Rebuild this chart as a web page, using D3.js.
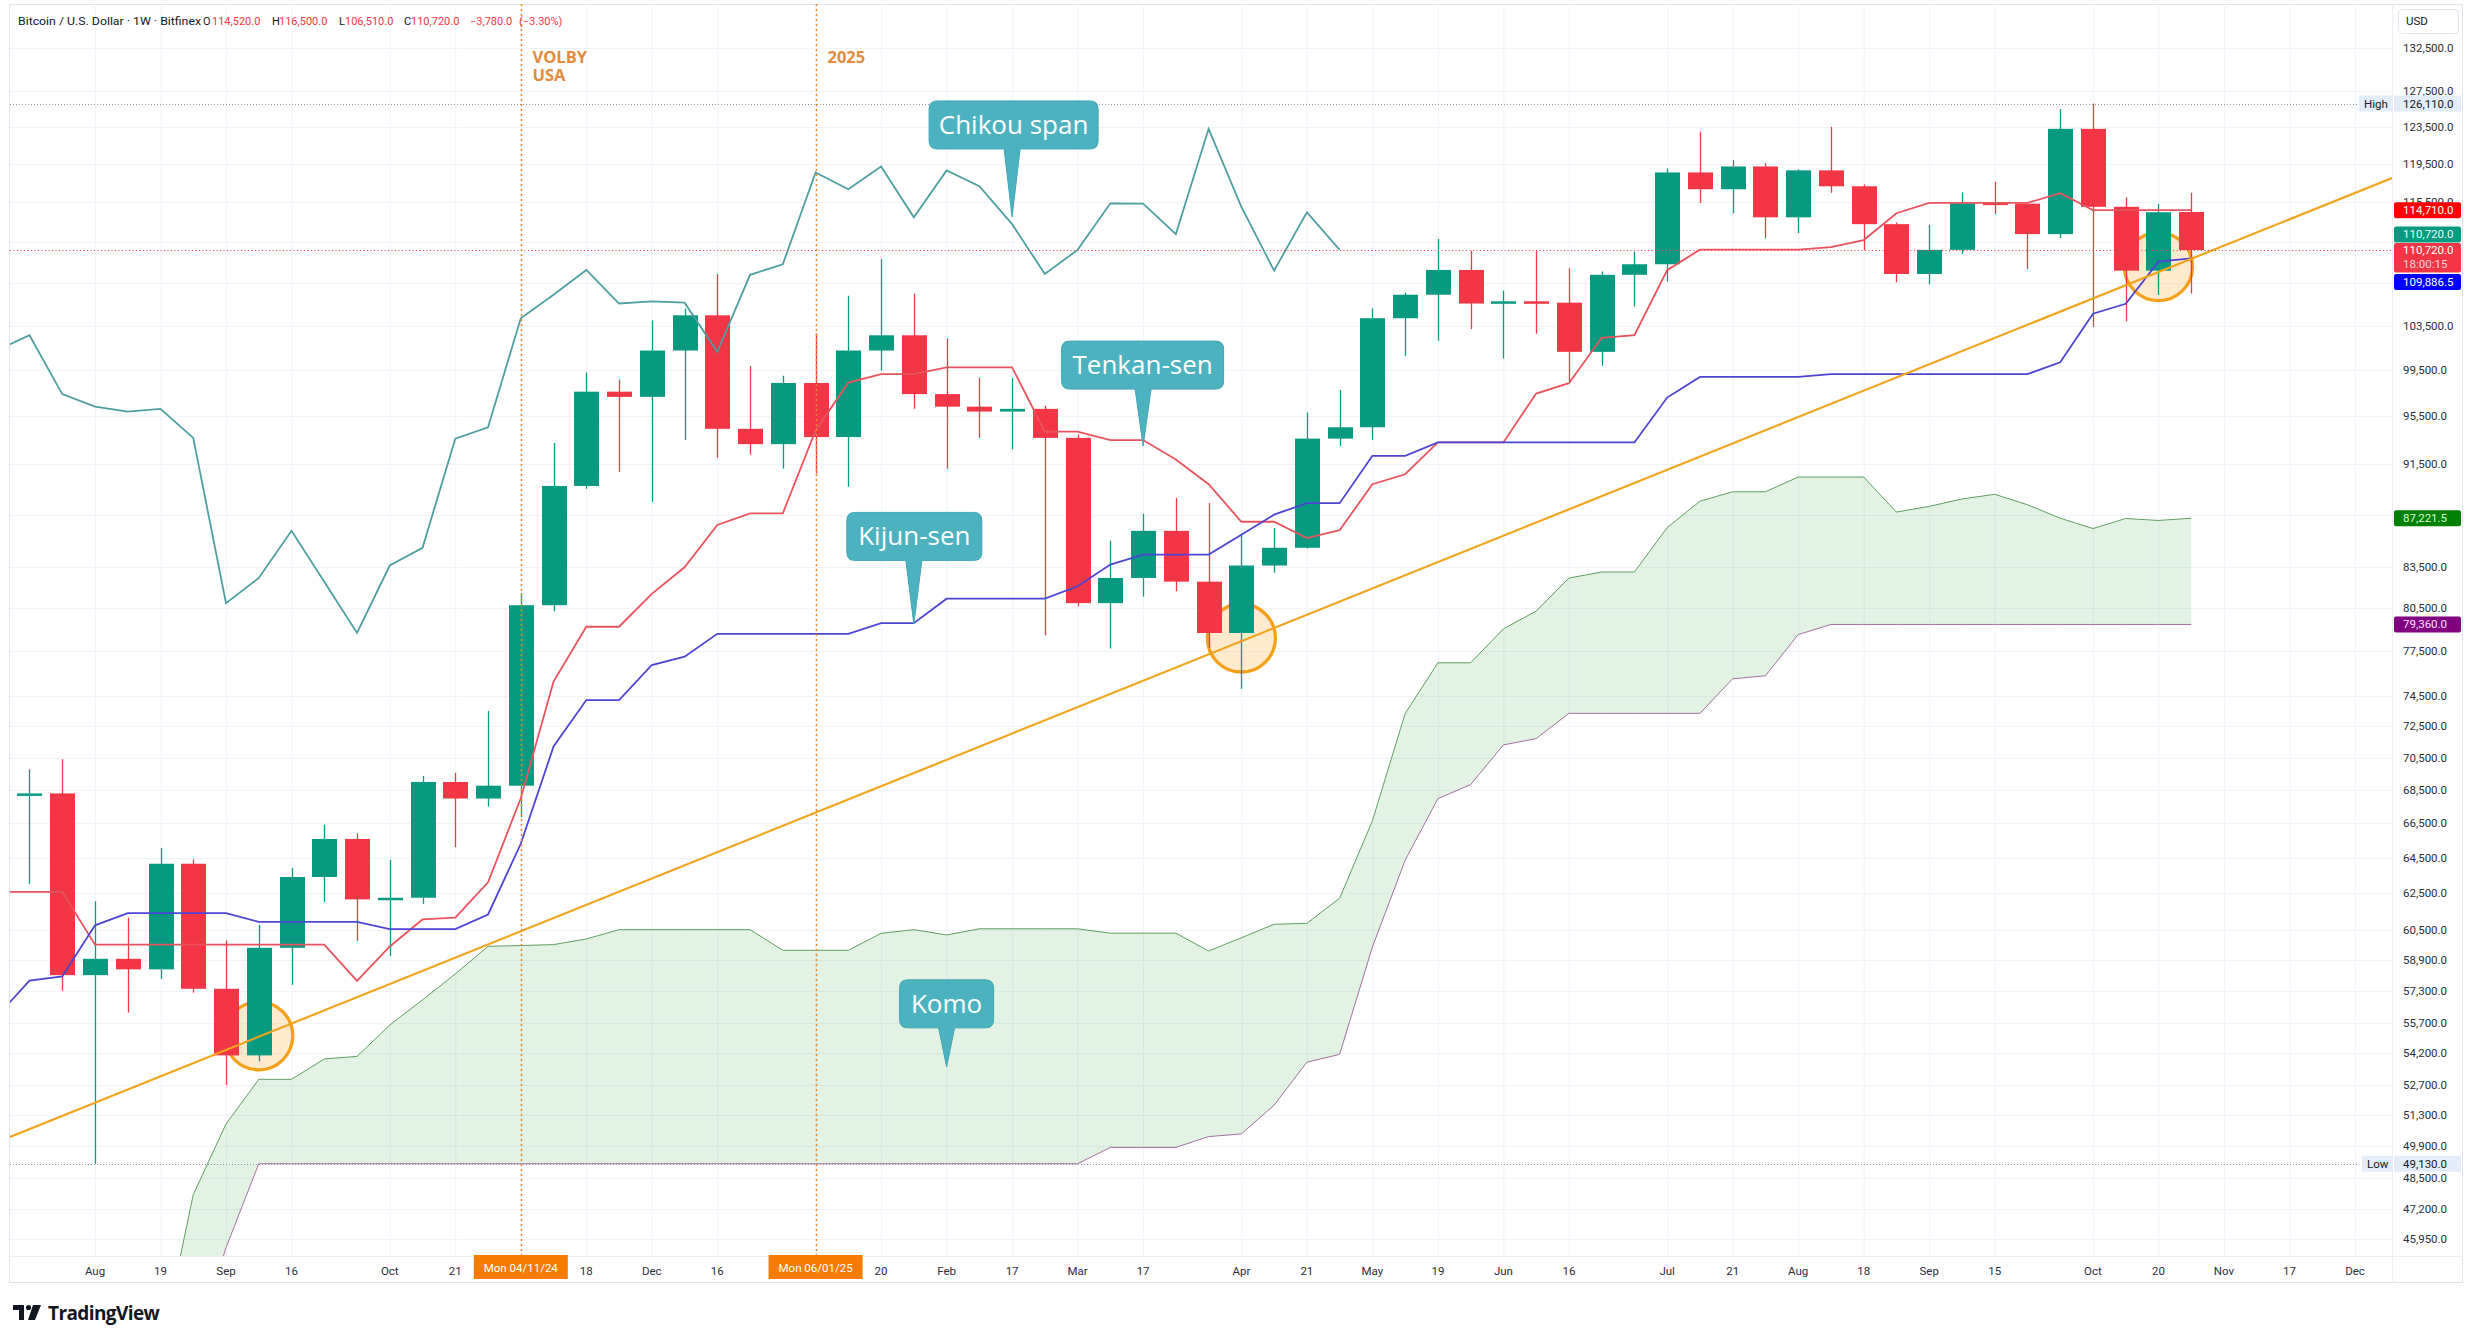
<!DOCTYPE html>
<html><head><meta charset="utf-8">
<script src="https://cdn.jsdelivr.net/npm/d3@7/dist/d3.min.js"></script>
<style>html,body{margin:0;padding:0;background:#fff;}svg{display:block;}</style>
</head><body>
<svg id="chart" width="2475" height="1343"></svg>
<script>
// ================= DATA =================
const weeks = ["2024-07-15","2024-07-22","2024-07-29","2024-08-05","2024-08-12","2024-08-19","2024-08-26","2024-09-02","2024-09-09","2024-09-16","2024-09-23","2024-09-30","2024-10-07","2024-10-14","2024-10-21","2024-10-28","2024-11-04","2024-11-11","2024-11-18","2024-11-25","2024-12-02","2024-12-09","2024-12-16","2024-12-23","2024-12-30",
"2025-01-06","2025-01-13","2025-01-20","2025-01-27","2025-02-03","2025-02-10","2025-02-17","2025-02-24","2025-03-03","2025-03-10","2025-03-17","2025-03-24","2025-03-31","2025-04-07","2025-04-14","2025-04-21","2025-04-28","2025-05-05","2025-05-12","2025-05-19","2025-05-26","2025-06-02","2025-06-09","2025-06-16","2025-06-23","2025-06-30","2025-07-07","2025-07-14","2025-07-21","2025-07-28","2025-08-04","2025-08-11","2025-08-18","2025-08-25","2025-09-01","2025-09-08","2025-09-15","2025-09-22","2025-09-29","2025-10-06","2025-10-13","2025-10-20","2025-10-27"];

const open = [null,
68150,68290,58100,58950,58400,64150,57400,54100,59530,63400,65580,62150,62240,68990,67980,68760,80730,89760,97610,97160,101250,104470,94440,93160,
98370,93750,101250,102630,97400,96320,95900,96130,93680,80880,82710,86250,82440,78760,83630,84960,93620,94570,104200,106400,108770,105570,105780,105650,101130,108300,109320,118620,116860,119250,113980,118840,117170,113290,108380,110730,115480,115370,112290,123310,115050,108700,114520];
const high = [null,
69770,70400,62050,61150,65050,64400,59920,60760,63900,66420,65900,64370,69360,69550,73480,81600,93260,99290,98660,104000,105100,108370,99870,99000,
102800,106300,109830,106500,102350,98830,98800,96400,93970,85500,87570,88820,88400,86050,86460,95820,97760,105120,106600,111800,110650,106790,110620,108930,108620,110550,119040,123000,119940,119590,118950,123530,117370,113460,113230,116540,117650,115410,125510,126110,116010,115350,116500];
const low = [null,
63000,57300,49130,56200,57900,57200,52700,53820,57600,62000,59900,59100,61900,65100,67500,66880,80300,89540,90890,88500,93500,92050,92290,91150,
90770,89700,99460,96140,91150,93680,92740,78600,80650,77680,81350,81740,77730,74950,83100,84910,93000,93520,100750,102140,103200,100530,102780,98490,99890,105290,107650,115440,114380,111880,112400,116500,110690,107580,107390,110330,114300,108860,111890,103400,103910,106380,106510];
const close = [null,
68290,58100,58950,58400,64150,57400,54100,59530,63400,65580,62150,62240,68990,67980,68760,80730,89760,97610,97160,101250,104470,94440,93160,98370,
93750,101250,102630,97400,96320,95900,96130,93680,80880,82710,86250,82440,78760,83630,84960,93620,94570,104200,106400,108770,105570,105780,105650,101130,108300,109320,118620,116860,119250,113980,118840,117170,113290,108380,110730,115410,115370,112290,123310,115050,108700,114500,110720];

// Ichimoku lines, aligned with weeks
const tenkan = [62570,62570,62570,59700,59700,59700,59700,59700,59700,59700,59700,57800,59600,61050,61150,63100,68000,75430,79200,79200,81550,83500,86700,87600,87600,94300,98400,99150,99150,99750,99750,99750,94200,94200,93500,93500,91900,89900,86950,86950,85700,86300,89900,90700,93300,93300,93300,97450,98350,102400,102650,108750,110750,110750,110750,110750,111000,111700,114400,115450,115450,115450,115450,116450,114710,114710,114710,114710];
const kijun = [56000,57820,58030,60730,61390,61390,61390,61390,60920,60920,60920,60920,60530,60530,60530,61320,65300,71200,74200,74200,76550,77120,78700,78700,78700,78700,78700,79450,79450,81200,81200,81200,81200,82100,83700,84450,84450,84450,85950,87500,88400,88400,92200,92200,93300,93300,93300,93300,93300,93300,93300,97100,98900,98900,98900,98900,99150,99150,99150,99150,99150,99150,99150,100200,104620,105540,109570,109886.5];
// Chikou span: first 42 weeks
const chikou = [101250,102630,97400,96320,95900,96130,93680,80880,82710,86250,82440,78760,83630,84960,93620,94570,104200,106400,108770,105570,105780,105650,101130,108300,109320,118620,116860,119250,113980,118840,117170,113290,108380,110730,115410,115370,112290,123310,115050,108700,114500,110720];
const senkouA = [null,null,null,null,null,
41600,47800,50900,52960,52960,53930,54050,55580,56840,58160,59610,59650,59700,60000,60500,60500,60500,60500,60500,59400,59400,59400,60300,60500,60215,60545,60545,60545,60545,60310,60310,60310,59360,60065,60790,60840,62210,66650,73315,76700,76700,79050,80310,82700,83150,83150,86500,88550,89300,89300,90475,90475,90475,87700,88150,88725,89100,88275,87225,86425,87200,87050,87221.5];
const senkouB = [null,null,null,null,null,
38000,41500,45600,49130,49130,49130,49130,49130,49130,49130,49130,49130,49130,49130,49130,49130,49130,49130,49130,49130,49130,49130,49130,49130,49130,49130,49130,49130,49130,49850,49850,49850,50330,50450,51760,53770,54150,59570,64350,67970,68830,71300,71700,73330,73330,73330,73330,73330,75620,75820,78650,79360,79360,79360,79360,79360,79360,79360,79360,79360,79360,79360,79360];

const xTickWeeks = ["2024-08-05","2024-08-19","2024-09-02","2024-09-16","2024-10-07","2024-10-21","2024-11-04","2024-11-18","2024-12-02","2024-12-16","2025-01-06","2025-01-20","2025-02-03","2025-02-17","2025-03-03","2025-03-17","2025-04-07","2025-04-21","2025-05-05","2025-05-19","2025-06-02","2025-06-16","2025-07-07","2025-07-21","2025-08-04","2025-08-18","2025-09-01","2025-09-15","2025-10-06","2025-10-20","2025-11-03","2025-11-17","2025-12-01"];
// labels under the orange date tags are hidden in the original (empty strings)
const xTickLabels = ["Aug","19","Sep","16","Oct","21","","18","Dec","16","","20","Feb","17","Mar","17","Apr","21","May","19","Jun","16","Jul","21","Aug","18","Sep","15","Oct","20","Nov","17","Dec"];
const yTicks = [132500,127500,123500,119500,115500,111500,107500,103500,99500,95500,91500,87500,83500,80500,77500,74500,72500,70500,68500,66500,64500,62500,60500,58900,57300,55700,54200,52700,51300,49900,48500,47200,45950];
// ticks whose labels are covered by price tags in the original
const yTicksHiddenLabel = [111500,107500];

const trendDates = ["2024-07-22","2025-12-01"];
const trendPrices = [50670,116480];
const circleDates = ["2024-09-09","2025-04-07","2025-10-20"];
const circlePrices = [55050,78410,109090];
const eventDates = ["2024-11-04","2025-01-06"];
const eventLabels = [["VOLBY","USA"],["2025"]];
const eventAxisLabels = ["Mon 04/11/24","Mon 06/01/25"];
const calloutTexts = ["Chikou span","Tenkan-sen","Kijun-sen","Komo"];
const calloutDates = ["2025-02-17","2025-03-17","2025-01-27","2025-02-03"];
const calloutPrices = [114020,93000,79400,53550];

// ================= LAYOUT =================
const parse = d3.utcParse("%Y-%m-%d");
const dates = weeks.map(parse);
const svg = d3.select("#chart");
const FONT = "Roboto, 'Noto Sans', 'DejaVu Sans', sans-serif";
const P = {l:10, r:2392, t:4, b:1256};
const x = d3.scaleUtc().domain([parse("2024-08-05"), parse("2025-12-01")]).range([95, 2355]);
const y = d3.scaleLog().domain([45950, 132500]).range([1239, 48]);
const fmt = d3.format(",.1f");

svg.append("rect").attr("x",9.5).attr("y",4.5).attr("width",2453).attr("height",1278)
  .attr("fill","#fff").attr("stroke","#e0e3eb");
svg.append("defs").append("clipPath").attr("id","clip").append("rect")
  .attr("x",P.l).attr("y",P.t).attr("width",P.r-P.l).attr("height",P.b-P.t);

// grid
const grid = svg.append("g");
grid.selectAll(".vg").data(xTickWeeks).join("line")
  .attr("x1",d=>x(parse(d))+0.5).attr("x2",d=>x(parse(d))+0.5).attr("y1",P.t).attr("y2",P.b)
  .attr("stroke","#f0f3fa");
grid.selectAll(".hg").data(yTicks).join("line")
  .attr("x1",P.l).attr("x2",P.r).attr("y1",d=>Math.round(y(d))+0.5).attr("y2",d=>Math.round(y(d))+0.5)
  .attr("stroke","#f0f3fa");
svg.append("line").attr("x1",P.r+0.5).attr("x2",P.r+0.5).attr("y1",P.t).attr("y2",1283).attr("stroke","#eceef3");
svg.append("line").attr("x1",P.l).attr("x2",2463).attr("y1",P.b+0.5).attr("y2",P.b+0.5).attr("stroke","#eceef3");

const plot = svg.append("g").attr("clip-path","url(#clip)");
const idx = d3.range(weeks.length);

// cloud
const cloudIdx = idx.filter(i=>senkouA[i]!=null && senkouB[i]!=null);
plot.append("path").datum(cloudIdx)
  .attr("d", d3.area().x(i=>x(dates[i])).y0(i=>y(senkouB[i])).y1(i=>y(senkouA[i])))
  .attr("fill","rgba(76,175,80,0.16)");
const lineOf = arr => d3.line().defined(i=>arr[i]!=null).x(i=>x(dates[i])).y(i=>y(arr[i]));
plot.append("path").datum(idx).attr("d",lineOf(senkouA)).attr("fill","none").attr("stroke","#5f9f62").attr("stroke-width",1);
plot.append("path").datum(idx).attr("d",lineOf(senkouB)).attr("fill","none").attr("stroke","#a3709f").attr("stroke-width",1);

// high / low / last price dotted
const hi = d3.max(high), lo = d3.min(low.filter(v=>v!=null));
const last = weeks.length-1;
[hi, lo].forEach(v=>{
  svg.append("line").attr("x1",P.l).attr("x2",2358).attr("y1",Math.round(y(v))+0.5).attr("y2",Math.round(y(v))+0.5)
    .attr("stroke","#8f939c").attr("stroke-width",1).attr("stroke-dasharray","1,2");
});
svg.append("line").attr("x1",P.l).attr("x2",P.r).attr("y1",Math.round(y(close[last]))+0.5).attr("y2",Math.round(y(close[last]))+0.5)
  .attr("stroke","#f23645").attr("stroke-width",1).attr("stroke-dasharray","1,2.5");

// circles
plot.selectAll(".circ").data(circleDates).join("circle")
  .attr("cx",(d)=>x(parse(d))).attr("cy",(d,i)=>y(circlePrices[i])).attr("r",34)
  .attr("fill","rgba(255,170,60,0.25)").attr("stroke","#f5a018").attr("stroke-width",3.3);

// candles
const cIdx = idx.filter(i=>open[i]!=null);
const cg = plot.append("g");
cg.selectAll(".wick").data(cIdx).join("line")
  .attr("x1",i=>Math.round(x(dates[i]))+0.5).attr("x2",i=>Math.round(x(dates[i]))+0.5)
  .attr("y1",i=>y(high[i])).attr("y2",i=>y(low[i]))
  .attr("stroke",i=>close[i]>=open[i]?"#089981":"#f23645").attr("stroke-width",1.3);
cg.selectAll(".body").data(cIdx).join("rect")
  .attr("x",i=>Math.round(x(dates[i]))-12).attr("width",25)
  .attr("y",i=>Math.min(y(open[i]),y(close[i])))
  .attr("height",i=>Math.max(2.5,Math.abs(y(open[i])-y(close[i]))))
  .attr("fill",i=>close[i]>=open[i]?"#089981":"#f23645");

// Ichimoku lines
const chIdx = d3.range(chikou.length);
plot.append("path").datum(chIdx).attr("d",d3.line().x(i=>x(dates[i])).y(i=>y(chikou[i])))
  .attr("fill","none").attr("stroke","#4f9fa0").attr("stroke-width",1.8);
plot.append("path").datum(idx).attr("d",lineOf(tenkan)).attr("fill","none").attr("stroke","#e8535d").attr("stroke-width",1.8);
plot.append("path").datum(idx).attr("d",lineOf(kijun)).attr("fill","none").attr("stroke","#4d44d4").attr("stroke-width",1.8);

// trend line extended across plot
{
  const x1=x(parse(trendDates[0])), y1=y(trendPrices[0]), x2=x(parse(trendDates[1])), y2=y(trendPrices[1]);
  const s=(y2-y1)/(x2-x1);
  plot.append("line").attr("x1",P.l).attr("y1",y1+s*(P.l-x1)).attr("x2",P.r).attr("y2",y1+s*(P.r-x1))
    .attr("stroke","#f2a41c").attr("stroke-width",2.2);
}

// event lines
eventDates.forEach((d,k)=>{
  const ex = Math.round(x(parse(d)))+0.5;
  svg.append("line").attr("x1",ex).attr("x2",ex).attr("y1",P.t).attr("y2",P.b)
    .attr("stroke","#e5892e").attr("stroke-width",1.5).attr("stroke-dasharray","2,3");
  const t = svg.append("text").attr("y",63)
    .attr("font-family","'Open Sans', sans-serif").attr("font-weight","bold").attr("font-size",16.5).attr("fill","#e38a3d");
  eventLabels[k].forEach((s,j)=>{
    t.append("tspan").attr("x",ex+11).attr("dy",j===0?0:17.5).text(s);
  });
});

// callouts
function calloutPath(l,t,w,h,r,tx,ty,bw){
  const b=t+h;
  return `M${l+r},${t} H${l+w-r} Q${l+w},${t} ${l+w},${t+r} V${b-r} Q${l+w},${b} ${l+w-r},${b} H${tx+bw} L${tx},${ty} L${tx-bw},${b} H${l+r} Q${l},${b} ${l},${b-r} V${t+r} Q${l},${t} ${l+r},${t} Z`;
}
const calloutBox = [{dx:-83,dy:-116,w:169},{dx:-81.5,dy:-105,w:162},{dx:-67,dy:-111.5,w:135},{dx:-47,dy:-87,w:94}];
calloutTexts.forEach((t,k)=>{
  const tx = x(parse(calloutDates[k])), ty = y(calloutPrices[k]);
  const b = calloutBox[k], l = tx+b.dx, top = ty+b.dy, h=48;
  svg.append("path").attr("d",calloutPath(l,top,b.w,h,8,tx,ty,8))
    .attr("fill","#4cb2c0").attr("stroke","#41a7b5").attr("stroke-width",1);
  svg.append("text").attr("x",l+b.w/2).attr("y",top+h/2+9).attr("text-anchor","middle").text(t)
    .attr("font-family","'Open Sans', sans-serif").attr("font-size",26).attr("fill","#fff");
});

// ================= AXES =================
const ax = svg.append("g").attr("font-family",FONT).attr("font-size",11.5).attr("fill","#2a2e39");
ax.selectAll(".yl").data(yTicks.filter(v=>!yTicksHiddenLabel.includes(v))).join("text")
  .attr("x",2403).attr("y",d=>y(d)+4).text(d=>fmt(d));
ax.selectAll(".xl").data(xTickWeeks.map((d,i)=>[d,xTickLabels[i]]).filter(p=>p[1]!=="")).join("text")
  .attr("x",p=>x(parse(p[0]))).attr("y",1274.5)
  .attr("text-anchor","middle").text(p=>p[1]);

// event axis boxes
eventDates.forEach((d,k)=>{
  const ex = x(parse(d));
  svg.append("rect").attr("x",ex-47).attr("y",1255).attr("width",94).attr("height",24).attr("fill","#f57c00");
  svg.append("text").attr("x",ex).attr("y",1271.5).attr("text-anchor","middle").text(eventAxisLabels[k])
    .attr("font-family",FONT).attr("font-size",11.5).attr("fill","#fff");
});

// USD box
svg.append("rect").attr("x",2398.5).attr("y",9.5).attr("width",60).attr("height",24).attr("rx",4)
  .attr("fill","#fff").attr("stroke","#e0e3eb");
svg.append("text").attr("x",2406).attr("y",25).text("USD").attr("font-family",FONT).attr("font-size",11.5).attr("fill","#131722");

// High / Low tags
[["High",hi],["Low",lo]].forEach(([lab,v])=>{
  const yc = y(v);
  const lw = lab==="High"?33:30;
  svg.append("rect").attr("x",2392-lw).attr("y",yc-8).attr("width",lw).attr("height",16).attr("fill","#e3edf9");
  svg.append("rect").attr("x",2394).attr("y",yc-8).attr("width",67).attr("height",16).attr("fill","#e3edf9");
  svg.append("text").attr("x",2392-lw+5).attr("y",yc+4).text(lab).attr("font-family",FONT).attr("font-size",11.5).attr("fill","#131722");
  svg.append("text").attr("x",2403).attr("y",yc+4).text(fmt(v)).attr("font-family",FONT).attr("font-size",11.5).attr("fill","#131722");
});

// price tags on right axis
const tags = [
  {v:tenkan[last], c:"#ff0000", tc:"#fff", dy:0},
  {v:chikou[chikou.length-1], c:"#089981", tc:"#e0fbff", dy:-15.5},
  {v:kijun[last], c:"#0000ff", tc:"#fff", dy:23.5},
  {v:senkouA[last], c:"#008000", tc:"#d8ffd8", dy:0},
  {v:senkouB[last], c:"#800080", tc:"#ffe0ff", dy:0}
];
tags.forEach(t=>{
  const yc = y(t.v)+t.dy;
  svg.append("rect").attr("x",2394).attr("y",yc-8).attr("width",67).attr("height",16).attr("rx",2).attr("fill",t.c);
  svg.append("text").attr("x",2403).attr("y",yc+4).text(fmt(t.v)).attr("font-family",FONT).attr("font-size",11.5).attr("fill",t.tc);
});
{
  const yc = y(close[last]);
  svg.append("rect").attr("x",2394).attr("y",yc-7).attr("width",67).attr("height",29.5).attr("rx",2).attr("fill","#f23645");
  svg.append("text").attr("x",2403).attr("y",yc+4).text(fmt(close[last])).attr("font-family",FONT).attr("font-size",11.5).attr("fill","#fff");
  svg.append("text").attr("x",2403).attr("y",yc+18.5).text("18:00:15").attr("font-family",FONT).attr("font-size",11.5).attr("fill","#ffd6da");
}

// header
{
  const o=open[last], h=high[last], l=low[last], c=close[last], pc=close[last-1];
  const ch=c-pc, pct=ch/pc*100;
  const hd = svg.append("g").attr("font-family",FONT).attr("font-size",11).attr("fill","#131722");
  hd.append("text").attr("x",18).attr("y",25).attr("textLength",183).attr("lengthAdjust","spacingAndGlyphs").text("Bitcoin / U.S. Dollar · 1W · Bitfinex");
  const red="#f23645";
  const parts=[["O",203,212,fmt(o)],["H",272,279,fmt(h)],["L",339,345,fmt(l)],["C",404,411,fmt(c)]];
  parts.forEach(p=>{
    hd.append("text").attr("x",p[1]).attr("y",25).text(p[0]);
    hd.append("text").attr("x",p[2]).attr("y",25).attr("fill",red).text(p[3]);
  });
  hd.append("text").attr("x",470).attr("y",25).attr("fill",red).text("\u2212"+fmt(Math.abs(ch)));
  hd.append("text").attr("x",519).attr("y",25).attr("fill",red).text("(\u2212"+Math.abs(pct).toFixed(2)+"%)");
}

// TradingView logo
{
  const lg = svg.append("g").attr("fill","#131722");
  lg.append("rect").attr("x",13).attr("y",1305).attr("width",11).attr("height",5);
  lg.append("rect").attr("x",19).attr("y",1305).attr("width",5).attr("height",15);
  lg.append("circle").attr("cx",28.5).attr("cy",1307.5).attr("r",2.6);
  lg.append("path").attr("d","M33,1305 L41,1305 L35,1320 L28,1320 Z");
  lg.append("text").attr("x",48).attr("y",1320).text("TradingView")
    .attr("font-family","'Open Sans', sans-serif").attr("font-weight","bold").attr("font-size",19).attr("letter-spacing",-0.6);
}
</script>
</body></html>
